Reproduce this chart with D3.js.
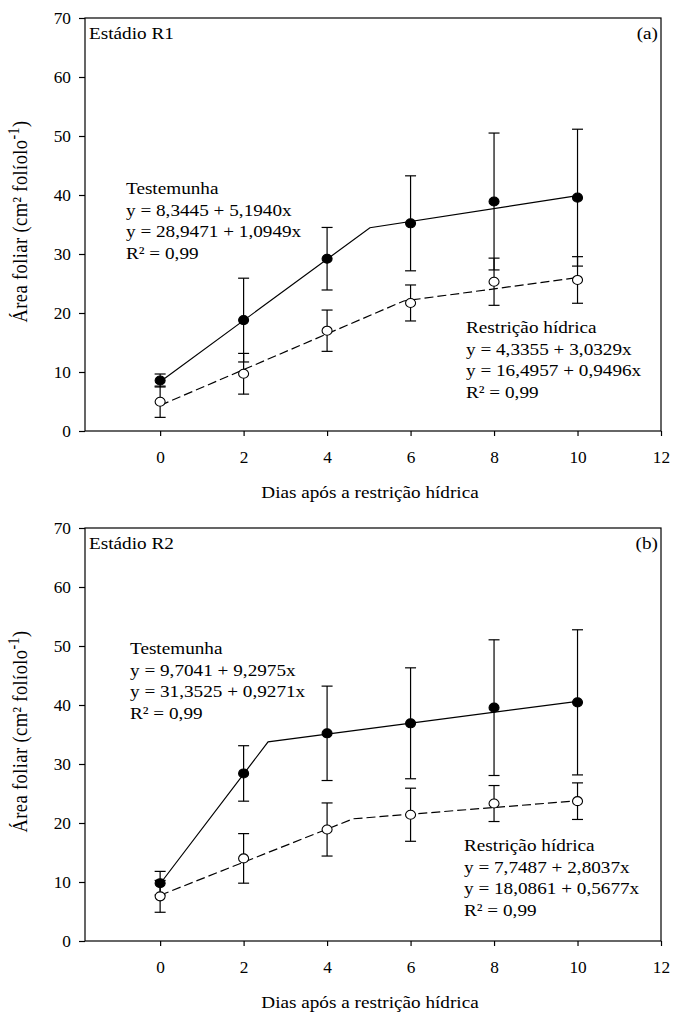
<!DOCTYPE html>
<html>
<head>
<meta charset="utf-8">
<script src="https://cdn.jsdelivr.net/npm/d3@7"></script>
<style>
  html, body { margin: 0; padding: 0; background: #fff; }
  svg { display: block; }
  text { font-family: "Liberation Serif", "Times New Roman", serif; fill: #000; }
</style>
</head>
<body>
<script>
// Leaf area per leaflet over the days after water restriction, stages R1 and R2
const days = [0, 2, 4, 6, 8, 10];
const xTicks = [0, 2, 4, 6, 8, 10, 12];
const yTicks = [0, 10, 20, 30, 40, 50, 60, 70];

// Stage R1
const r1Control = [8.56, 18.8, 29.2, 35.2, 38.9, 39.55];
const r1ControlErr = [1.1, 7.1, 5.3, 8.05, 11.6, 11.6];
const r1Stress = [4.96, 9.7, 17.0, 21.7, 25.3, 25.6];
const r1StressErr = [2.65, 3.45, 3.5, 3.05, 4.0, 3.95];
const r1ControlFit = { a: [8.3445, 28.9471], b: [5.1940, 1.0949], r2: 0.99 };
const r1StressFit = { a: [4.3355, 16.4957], b: [3.0329, 0.9496], r2: 0.99 };

// Stage R2
const r2Control = [9.8, 28.4, 35.2, 36.9, 39.55, 40.45];
const r2ControlErr = [2.0, 4.7, 8.0, 9.4, 11.5, 12.3];
const r2Stress = [7.57, 14.0, 18.9, 21.4, 23.3, 23.7];
const r2StressErr = [2.7, 4.2, 4.5, 4.5, 3.05, 3.1];
const r2ControlFit = { a: [9.7041, 31.3525], b: [9.2975, 0.9271], r2: 0.99 };
const r2StressFit = { a: [7.7487, 18.0861], b: [2.8037, 0.5677], r2: 0.99 };

const controlName = "Testemunha";
const stressName = "Restrição hídrica";
const xTitle = "Dias após a restrição hídrica";

const W = 673, H = 1016;
const svg = d3.select("body").append("svg").attr("width", W).attr("height", H);
svg.append("rect").attr("width", W).attr("height", H).attr("fill", "#fff");

const FONT = 17;       // annotation text size
const SX = 1.13;       // horizontal widening of the annotation lettering
const TICK_FONT = 16;  // tick label size
const TSX = 1.08;      // horizontal widening of tick labels
const x = d3.scaleLinear().domain([-1.8, 12]).range([85, 661]);

const comma = v => d3.format(".4f")(v).replace(".", ",");
const comma2 = v => d3.format(".2f")(v).replace(".", ",");

// widened text placed at (px, py)
function label(g, px, py, str, anchor) {
  return g.append("text")
    .attr("transform", `translate(${px},${py}) scale(${SX},1)`)
    .attr("text-anchor", anchor || "start")
    .attr("font-size", FONT)
    .text(str);
}

// Segmented regression: first line up to where it meets the second
function fitPoints(fit, x0, x1) {
  const xb = (fit.a[1] - fit.a[0]) / (fit.b[0] - fit.b[1]);
  return [
    [x0, fit.a[0] + fit.b[0] * x0],
    [xb, fit.a[0] + fit.b[0] * xb],
    [x1, fit.a[1] + fit.b[1] * x1]
  ];
}

function panel(cfg) {
  const y = d3.scaleLinear().domain([0, 70]).range([cfg.bottom, cfg.top]);
  const g = svg.append("g");

  // axes
  const ax = g.append("g").attr("transform", `translate(0,${cfg.bottom})`)
    .call(d3.axisBottom(x).tickValues(xTicks).tickSize(5).tickPadding(16).tickFormat(d3.format("d")));
  ax.select(".domain").remove();
  ax.selectAll(".tick text").attr("transform", `scale(${TSX},1)`);
  const ay = g.append("g").attr("transform", `translate(${x.range()[0]},0)`)
    .call(d3.axisLeft(y).tickValues(yTicks).tickSize(6).tickPadding(8).tickFormat(d3.format("d")));
  ay.select(".domain").remove();
  ay.selectAll(".tick text").attr("x", -14 / TSX).attr("transform", `scale(${TSX},1)`);
  g.selectAll(".tick line").attr("stroke", "#000").attr("stroke-width", 1.2);
  g.selectAll(".tick text").attr("font-size", TICK_FONT).attr("font-family", '"Liberation Serif", "Times New Roman", serif');

  // frame
  g.append("rect")
    .attr("x", x.range()[0]).attr("y", cfg.top)
    .attr("width", x.range()[1] - x.range()[0]).attr("height", cfg.bottom - cfg.top)
    .attr("fill", "none").attr("stroke", "#000").attr("stroke-width", 1.2);

  const line = d3.line().x(d => x(d[0])).y(d => y(d[1]));

  // fitted lines
  g.append("path").datum(fitPoints(cfg.controlFit, 0, 10)).attr("d", line)
    .attr("fill", "none").attr("stroke", "#000").attr("stroke-width", 1.2);
  g.append("path").datum(fitPoints(cfg.stressFit, 0, 10)).attr("d", line)
    .attr("fill", "none").attr("stroke", "#000").attr("stroke-width", 1.2)
    .attr("stroke-dasharray", "9,4");

  const series = [
    { vals: cfg.stress, err: cfg.stressErr, fill: "#fff" },
    { vals: cfg.control, err: cfg.controlErr, fill: "#000" }
  ];

  // error bars
  const cap = 5.5;
  series.forEach(s => {
    const eb = g.append("g").attr("stroke", "#000").attr("stroke-width", 1.2);
    days.forEach((d, i) => {
      const cx = x(d), hi = y(s.vals[i] + s.err[i]), lo = y(s.vals[i] - s.err[i]);
      eb.append("line").attr("x1", cx).attr("x2", cx).attr("y1", hi).attr("y2", lo);
      eb.append("line").attr("x1", cx - cap).attr("x2", cx + cap).attr("y1", hi).attr("y2", hi);
      eb.append("line").attr("x1", cx - cap).attr("x2", cx + cap).attr("y1", lo).attr("y2", lo);
    });
  });

  // markers (slightly wider than tall)
  series.forEach(s => {
    g.append("g").selectAll("ellipse").data(days).join("ellipse")
      .attr("cx", d => x(d)).attr("cy", (d, i) => y(s.vals[i]))
      .attr("rx", 5).attr("ry", 4.5)
      .attr("fill", s.fill).attr("stroke", "#000").attr("stroke-width", 1.1);
  });

  // stage label and panel letter
  label(g, x.range()[0] + 4, cfg.top + 20.5, cfg.stage);
  label(g, x.range()[1] - 3, cfg.top + 20.5, cfg.letter, "end");

  // equation blocks
  function block(name, fit, px, py) {
    const lines = [
      name,
      `y = ${comma(fit.a[0])} + ${comma(fit.b[0])}x`,
      `y = ${comma(fit.a[1])} + ${comma(fit.b[1])}x`,
      `R² = ${comma2(fit.r2)}`
    ];
    lines.forEach((l, i) => label(g, px, py + i * 21.7, l));
  }
  block(controlName, cfg.controlFit, cfg.ctlPos[0], cfg.ctlPos[1]);
  block(stressName, cfg.stressFit, cfg.strPos[0], cfg.strPos[1]);

  // axis titles
  label(g, (x.range()[0] + x.range()[1]) / 2 - 3, cfg.bottom + 67, xTitle, "middle");
  const yt = g.append("text")
    .attr("transform", `translate(27,${(cfg.top + cfg.bottom) / 2 - 3}) rotate(-90) scale(1,${SX})`)
    .attr("text-anchor", "middle").attr("font-size", 18.5)
    .attr("letter-spacing", 0.4);
  yt.append("tspan").text("Área foliar (cm² folíolo");
  yt.append("tspan").attr("font-size", 14).attr("dy", -7).text("-1");
  yt.append("tspan").attr("dy", 7).text(")");
}

panel({
  top: 18, bottom: 431, stage: "Estádio R1", letter: "(a)",
  control: r1Control, controlErr: r1ControlErr, stress: r1Stress, stressErr: r1StressErr,
  controlFit: r1ControlFit, stressFit: r1StressFit,
  ctlPos: [126, 194], strPos: [466, 333]
});
panel({
  top: 528, bottom: 941, stage: "Estádio R2", letter: "(b)",
  control: r2Control, controlErr: r2ControlErr, stress: r2Stress, stressErr: r2StressErr,
  controlFit: r2ControlFit, stressFit: r2StressFit,
  ctlPos: [130, 654], strPos: [464, 851]
});
</script>
</body>
</html>
